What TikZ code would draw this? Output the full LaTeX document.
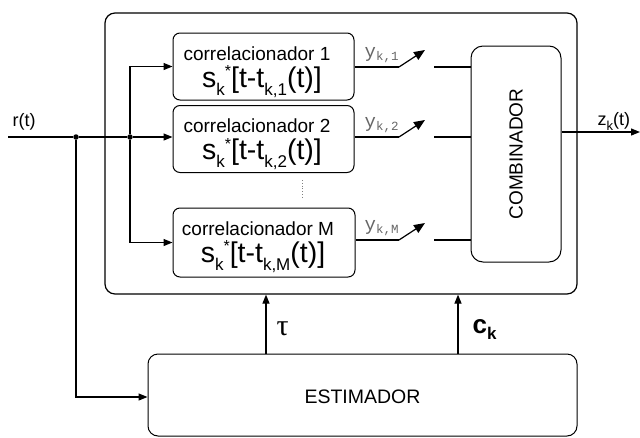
\documentclass[tikz,border=0pt]{standalone}
\usepackage{fontspec}
\setmainfont{Liberation Sans}
\newfontfamily\monof{Liberation Mono}
\newfontfamily\seriff{Liberation Serif}
\usetikzlibrary{arrows.meta,calc}
\newcommand\corrline[1]{s\raisebox{-8pt}{\fontsize{17}{17}\selectfont k}\raisebox{10.5pt}{\fontsize{16}{16}\selectfont *}[t-t\raisebox{-8pt}{\fontsize{17}{17}\selectfont k,#1}(t)]}
\newcommand\ylabel[1]{y\raisebox{-3pt}{\fontsize{12.5}{12.5}\selectfont k,#1}}
\begin{document}
\begin{tikzpicture}[x=1pt,y=-1pt,line width=1.2pt,
  box/.style={draw,rounded corners=7pt,inner sep=0pt,line width=1pt},
  arr/.style={-{Triangle[length=9pt,width=7pt]}},
  swarr/.style={-{Triangle[length=11pt,width=9pt]}},
  jdot/.style={circle,fill,inner sep=0pt,minimum size=5.5pt},
  txa/.style={anchor=base,inner sep=0pt,font=\fontsize{19}{19}\selectfont},
  txb/.style={anchor=base,inner sep=0pt,font=\fontsize{28.5}{28.5}\selectfont},
  ylab/.style={anchor=base west,inner sep=0pt,text=black!60,font=\monof\fontsize{19}{19}\selectfont},
  lab/.style={anchor=base west,inner sep=0pt,font=\fontsize{18}{18}\selectfont}]
\useasboundingbox (0,0) rectangle (640,437);

% boxes
\node[box,rounded corners=10pt,line width=1.2pt,minimum width=472pt,minimum height=281pt] (outer) at (341,153.5) {};
\node[box,minimum width=181pt,minimum height=67pt] (c1) at (263.5,66.5) {};
\node[box,minimum width=181pt,minimum height=67pt] (c2) at (263.5,139) {};
\node[box,minimum width=182pt,minimum height=69pt] (c3) at (264,242.5) {};
\node[box,rounded corners=12pt,minimum width=90pt,minimum height=216pt] (comb) at (516,154) {};
\node[rotate=90,inner sep=0pt,font=\fontsize{19}{19}\selectfont] (combt) at (comb.center) {COMBINADOR};
\node[box,rounded corners=10pt,minimum width=429pt,minimum height=82pt] (est) at (362.5,395) {};
\node[inner sep=0pt,font=\fontsize{19.5}{19.5}\selectfont] (estt) at (362.5,397) {ESTIMADOR};

% correlator texts
\node[txa] (c1a) at (257,60) {correlacionador 1};
\node[txb] (c1b) at (262,87) {\corrline{1}};
\node[txa] (c2a) at (257,132.5) {correlacionador 2};
\node[txb] (c2b) at (262,159.5) {\corrline{2}};
\node[txa] (c3a) at (258,235) {correlacionador M};
\node[txb] (c3b) at (263,262) {\corrline{M}};

% input
\coordinate (in) at (8,137);
\node[jdot] (j1) at (76,137) {};
\node[jdot] (j2) at (130,137) {};
\node[lab] (rt) at (12,126) {r(t)};
\draw (in) -- (j1) -- (j2);
\draw[arr] (j2) -- (c2.west |- j2);
\draw[arr] (j2) |- (c1.west);
\draw[arr] (j2) |- (c3.west);
\draw[arr] (j1) |- (est.west |- estt);

% switches
\foreach \i/\yy/\s in {1/67/1,2/137/2,3/240/M}{
  \coordinate (sa\i) at (399,\yy);
  \coordinate (sb\i) at (425,\yy-17);
  \coordinate (sc\i) at (434,\yy);
  \draw (c\i.east |- sa\i) -- (sa\i);
  \draw[swarr] (sa\i) -- (sb\i);
  \draw (sc\i) -- (comb.west |- sc\i);
  \node[ylab] (y\i) at (364,\yy-10) {\ylabel{\s}};
}

% dots
\draw[dotted,line width=0.8pt,black!50] (302,180) -- (302,198);

% output
\coordinate (out) at (640,132);
\draw[arr] (comb.east |- out) -- (out);
\node[lab] (zt) at (597,125) {z\raisebox{-5pt}{\fontsize{13}{13}\selectfont k}(t)};

% estimator outputs
\coordinate (tx) at (266,0);
\coordinate (cx) at (458,0);
\draw[arr] (est.north -| tx) -- (outer.south -| tx);
\draw[arr] (est.north -| cx) -- (outer.south -| cx);
\node[anchor=base west,inner sep=0pt,font=\seriff\fontsize{30}{30}\selectfont] (tau) at (276,335) {τ};
\node[anchor=base west,inner sep=0pt,font=\bfseries\fontsize{26}{26}\selectfont] (ck) at (472,333) {c\raisebox{-6pt}{\fontsize{17}{17}\selectfont k}};
\end{tikzpicture}
\end{document}
